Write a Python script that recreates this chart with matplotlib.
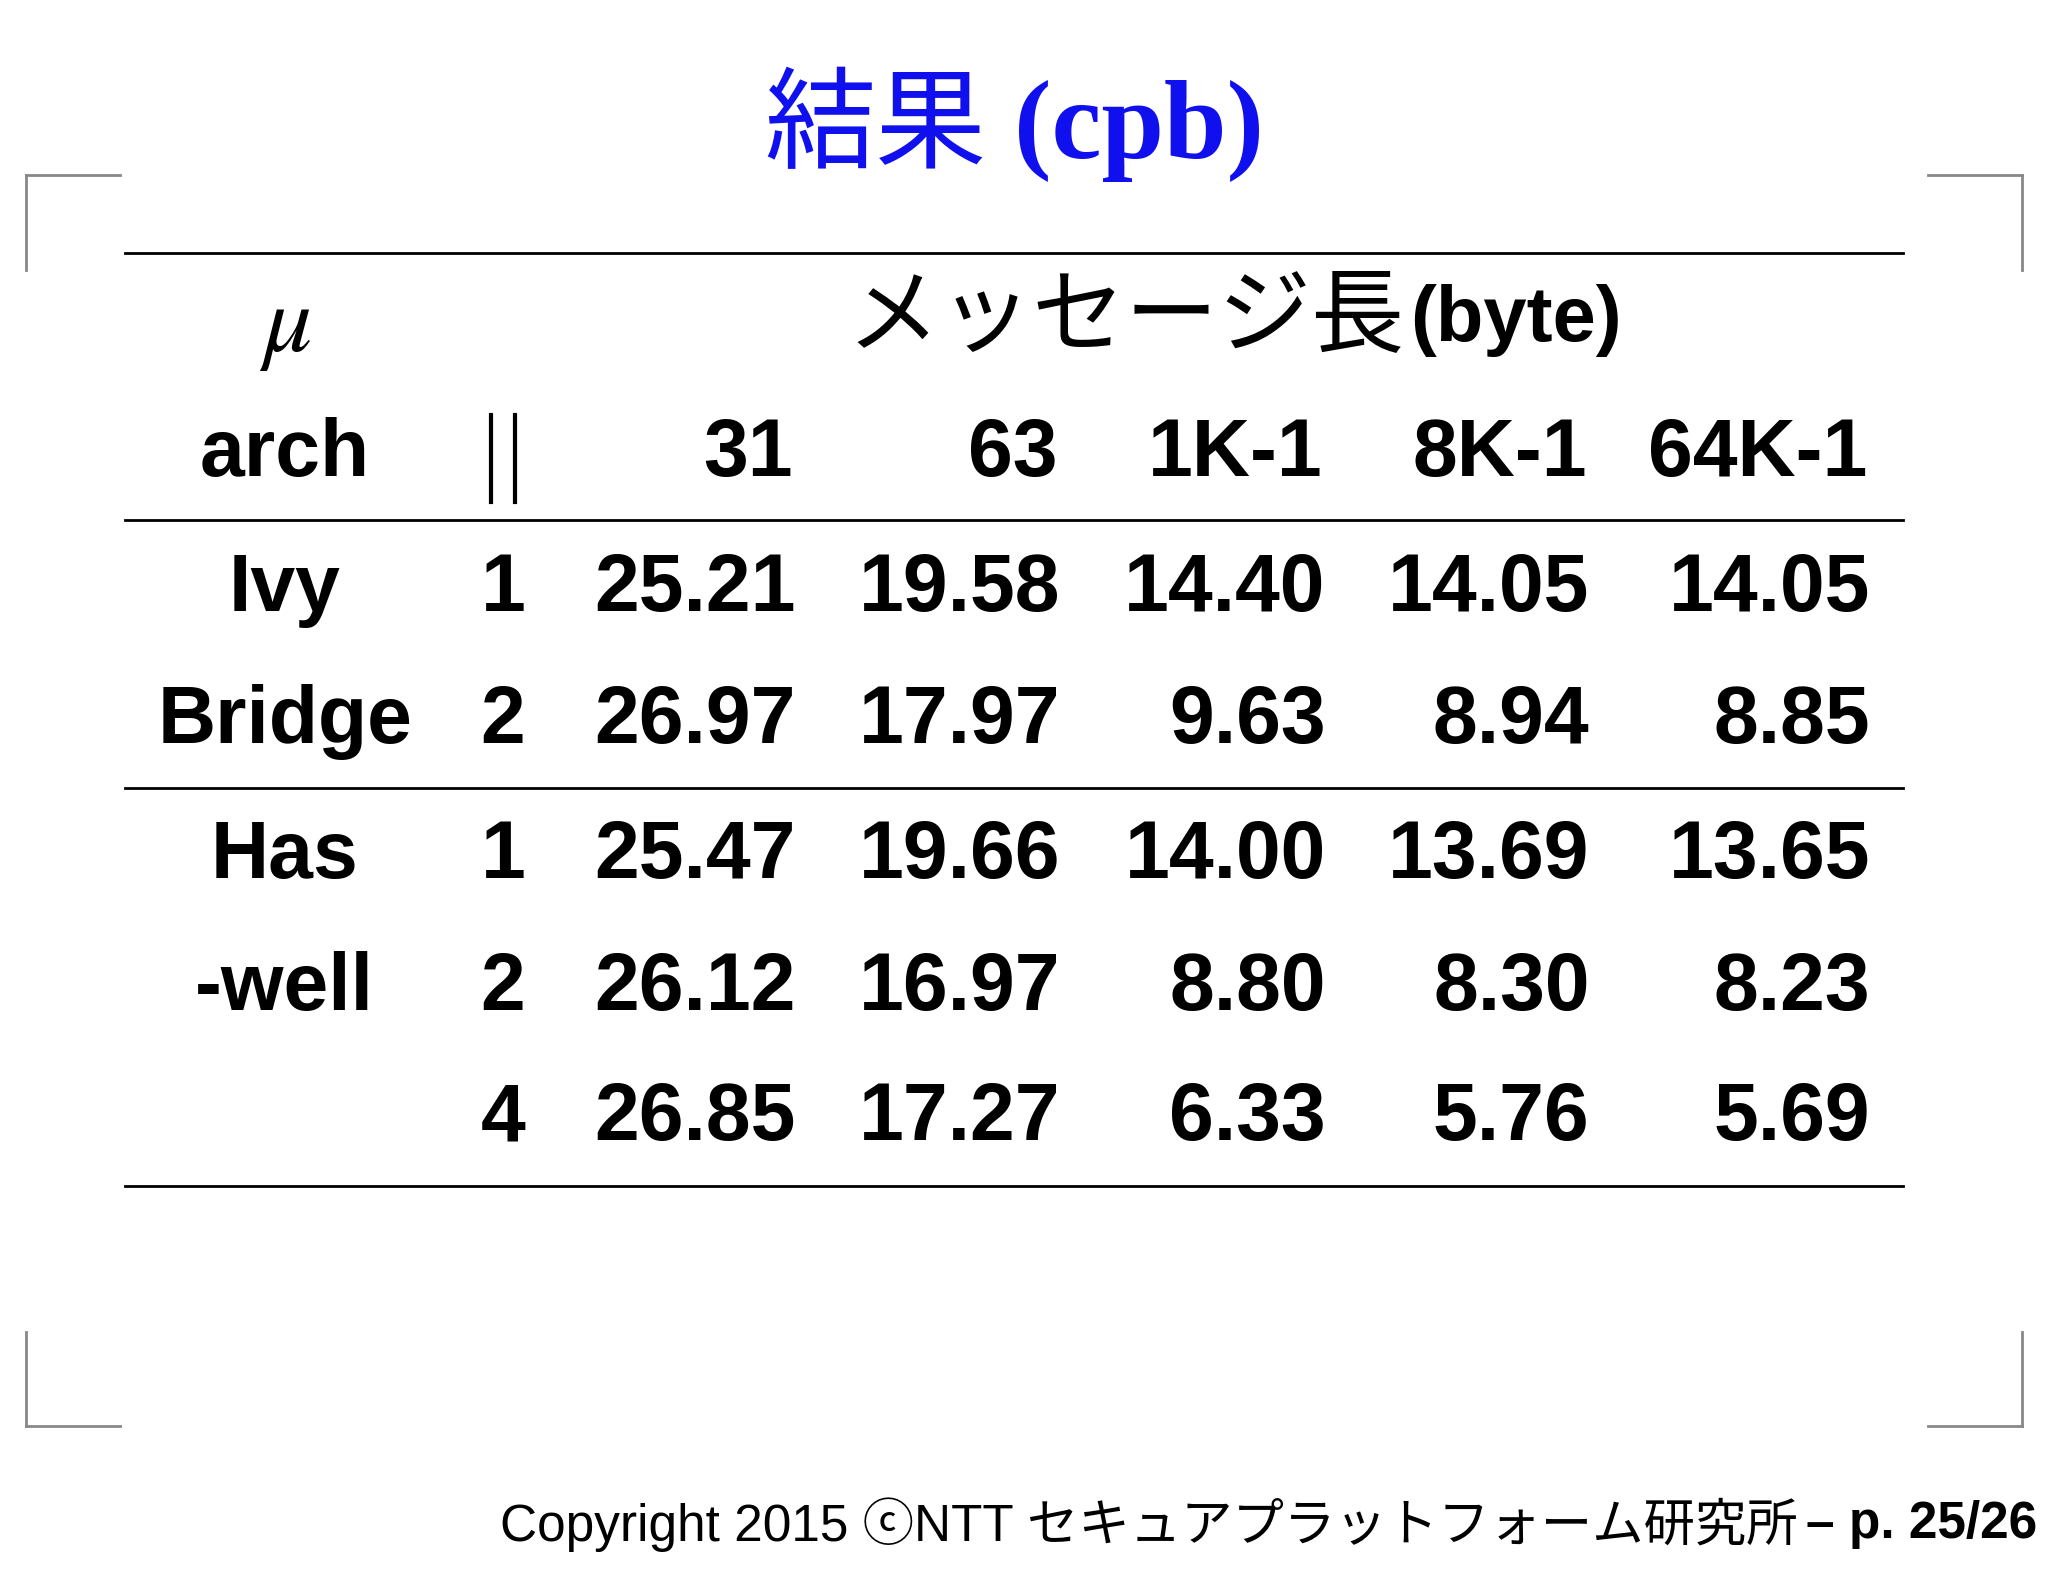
import matplotlib
matplotlib.use("Agg")
import matplotlib.pyplot as plt
from matplotlib.lines import Line2D

plt.rcParams['mathtext.fontset'] = 'stix'

W, H = 1568.0, 1205.0
def fx(x): return x / W
def fy(y): return 1 - y / H

col_headers = ["31", "63", "1K-1", "8K-1", "64K-1"]
arch_labels = ["Ivy", "Bridge", "Has", "-well", ""]
threads = ["1", "2", "1", "2", "4"]
values = [
    ["25.21", "19.58", "14.40", "14.05", "14.05"],
    ["26.97", "17.97", "9.63", "8.94", "8.85"],
    ["25.47", "19.66", "14.00", "13.69", "13.65"],
    ["26.12", "16.97", "8.80", "8.30", "8.23"],
    ["26.85", "17.27", "6.33", "5.76", "5.69"],
]

fig = plt.figure(figsize=(20.48, 15.74), dpi=100)
fam = ['Liberation Sans', 'Noto Sans CJK JP', 'DejaVu Sans']
cjk = ['Noto Sans CJK JP', 'Liberation Sans']

def line(x0, y0, x1, y1, color='black', lw=2):
    fig.add_artist(Line2D([fx(x0), fx(x1)], [fy(y0), fy(y1)], color=color, lw=lw))

g = '#888888'
for (x0, x1, xv) in [(20, 92, 20), (1476, 1548, 1548)]:
    line(x0, 134, x1, 134, g, 2); line(xv, 134, xv, 207, g, 2)
    line(x0, 1092, x1, 1092, g, 2); line(xv, 1020, xv, 1092, g, 2)

fig.text(fx(755), fy(98), "結果", color='#1010ee', fontsize=80, family=cjk,
         ha='right', va='center')
fig.text(fx(776), fy(100), "(cpb)", color='#1010ee', fontsize=81, family=['Liberation Serif'],
         weight='bold', ha='left', va='center')

for y in [194, 398, 603, 908]:
    line(96, y, 1457, y, 'black', 2)

fs = 58
fig.text(fx(218), fy(250), r"$\mu$", fontsize=70, ha='center', va='center')
fig.text(fx(1075), fy(243), "メッセージ長", fontsize=67, family=cjk, ha='right', va='center')
fig.text(fx(1080), fy(245), "(byte)", fontsize=56, family=fam, weight='bold', ha='left', va='center')

fig.text(fx(218), fy(348), "arch", fontsize=fs, family=fam, weight='bold', ha='center', va='center')
line(376, 318, 376, 384, 'black', 3); line(394, 318, 394, 384, 'black', 3)
col_x = [607, 810, 1013, 1215, 1430]
for cx, h in zip(col_x, col_headers):
    fig.text(fx(cx), fy(348), h, fontsize=fs, family=fam, weight='bold', ha='right', va='center')

row_y = [452, 553, 656, 757, 857]
for ry, a, t, vals in zip(row_y, arch_labels, threads, values):
    fig.text(fx(218), fy(ry), a, fontsize=fs, family=fam, weight='bold', ha='center', va='center')
    fig.text(fx(385), fy(ry), t, fontsize=fs, family=fam, weight='bold', ha='center', va='center')
    for cx, v in zip(col_x, vals):
        fig.text(fx(cx + 2), fy(ry), v, fontsize=fs, family=fam, weight='bold', ha='right', va='center')

fig.canvas.draw()
r = fig.canvas.get_renderer()
tb = fig.text(fx(1560), fy(1167), "– p. 25/26", fontsize=37, family=fam, weight='bold',
              ha='right', va='center')
bb = tb.get_window_extent(r)
x_left = bb.x0 / fig.bbox.width
fig.text(x_left - 0.004, fy(1167), "Copyright 2015 ⓒNTT セキュアプラットフォーム研究所",
         fontsize=37, family=fam, ha='right', va='center')

fig.savefig("out.png", dpi=100, facecolor='white')
